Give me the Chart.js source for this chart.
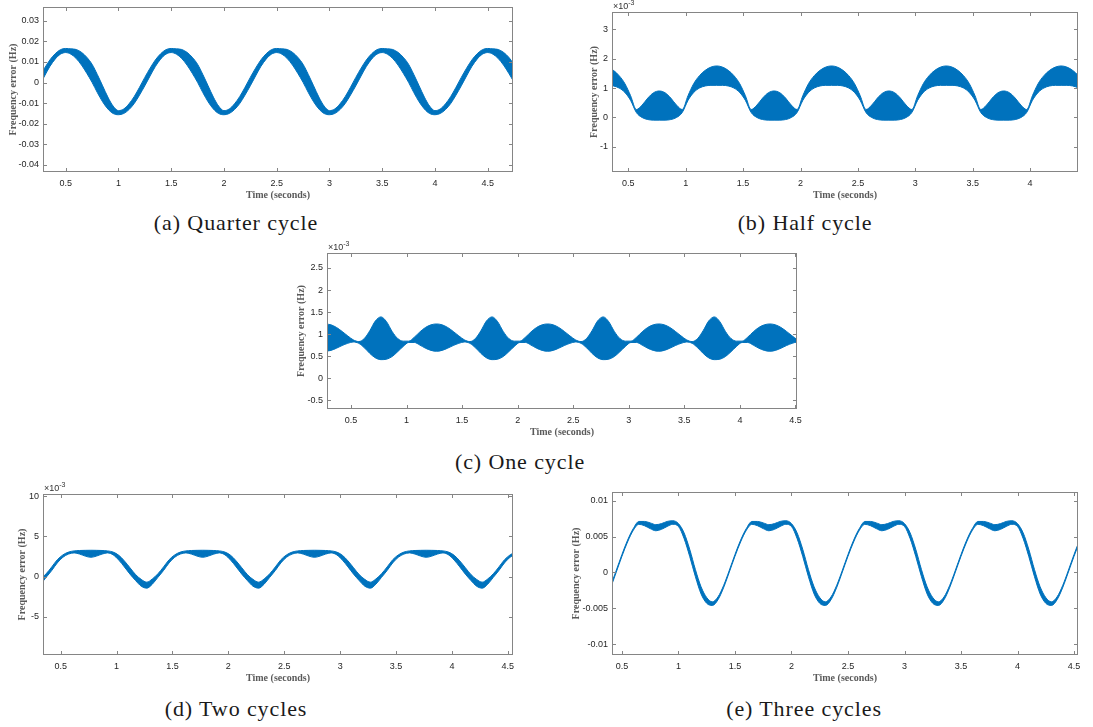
<!DOCTYPE html>
<html>
<head>
<meta charset="utf-8">
<script src="https://cdn.jsdelivr.net/npm/chart.js@4.4.1/dist/chart.umd.min.js"></script>
<style>
  body { margin: 0; background: #fff; }
  #page { position: relative; width: 1093px; height: 727px; overflow: hidden; background: #fff; }
  canvas { position: absolute; }
  .cap {
    position: absolute;
    font-family: "Liberation Serif", serif;
    font-size: 22px;
    letter-spacing: 0.9px;
    color: #1a1a1a;
    white-space: nowrap;
    transform: translate(-50%, -50%);
  }
</style>
</head>
<body>
<div id="page">
  <canvas id="quarter"></canvas>
  <canvas id="half"></canvas>
  <canvas id="one"></canvas>
  <canvas id="two"></canvas>
  <canvas id="three"></canvas>
  <div class="cap" style="left:236px; top:223px">(a) Quarter cycle</div>
  <div class="cap" style="left:805px; top:223px">(b) Half cycle</div>
  <div class="cap" style="left:520px; top:462px">(c) One cycle</div>
  <div class="cap" style="left:236px; top:709px">(d) Two cycles</div>
  <div class="cap" style="left:804px; top:709px">(e) Three cycles</div>
</div>
<script>
// sample times (s)
const timeA = [
  0.25, 0.3, 0.35, 0.4, 0.45, 0.5, 0.55, 0.6, 0.65, 0.7, 0.75, 0.8, 0.85, 0.9, 0.95, 1, 1.05, 1.1, 1.15, 1.2,
  1.25, 1.3, 1.35, 1.4, 1.45, 1.5, 1.55, 1.6, 1.65, 1.7, 1.75, 1.8, 1.85, 1.9, 1.95, 2, 2.05, 2.1, 2.15, 2.2,
  2.25, 2.3, 2.35, 2.4, 2.45, 2.5, 2.55, 2.6, 2.65, 2.7, 2.75, 2.8, 2.85, 2.9, 2.95, 3, 3.05, 3.1, 3.15, 3.2,
  3.25, 3.3, 3.35, 3.4, 3.45, 3.5, 3.55, 3.6, 3.65, 3.7, 3.75, 3.8, 3.85, 3.9, 3.95, 4, 4.05, 4.1, 4.15, 4.2,
  4.25, 4.3, 4.35, 4.4, 4.45, 4.5, 4.55, 4.6, 4.65, 4.7, 4.75
];
const timeB = [
  0.27, 0.32, 0.37, 0.42, 0.47, 0.52, 0.57, 0.62, 0.67, 0.72, 0.77, 0.82, 0.87, 0.92, 0.97, 1.02, 1.07, 1.12, 1.17, 1.22,
  1.27, 1.32, 1.37, 1.42, 1.47, 1.52, 1.57, 1.62, 1.67, 1.72, 1.77, 1.82, 1.87, 1.92, 1.97, 2.02, 2.07, 2.12, 2.17, 2.22,
  2.27, 2.32, 2.37, 2.42, 2.47, 2.52, 2.57, 2.62, 2.67, 2.72, 2.77, 2.82, 2.87, 2.92, 2.97, 3.02, 3.07, 3.12, 3.17, 3.22,
  3.27, 3.32, 3.37, 3.42, 3.47, 3.52, 3.57, 3.62, 3.67, 3.72, 3.77, 3.82, 3.87, 3.92, 3.97, 4.02, 4.07, 4.12, 4.17, 4.22,
  4.27, 4.32, 4.37, 4.42, 4.47, 4.52, 4.57, 4.62, 4.67, 4.72, 4.77
];

// envelopes of the frequency error: upper and lower edge of the oscillating band
// (a) quarter cycle, Hz, on timeA
const quarterUpper = [
  0.0025, 0.007, 0.011, 0.014, 0.016, 0.0166, 0.0164, 0.0161, 0.0147, 0.0123, 0.0089, 0.0039, -0.0016, -0.0071, -0.0115, -0.0137, -0.0129, -0.0104, -0.0068, -0.0023,
  0.0025, 0.007, 0.011, 0.014, 0.016, 0.0166, 0.0164, 0.0161, 0.0147, 0.0123, 0.0089, 0.0039, -0.0016, -0.0071, -0.0115, -0.0137, -0.0129, -0.0104, -0.0068, -0.0023,
  0.0025, 0.007, 0.011, 0.014, 0.016, 0.0166, 0.0164, 0.0161, 0.0147, 0.0123, 0.0089, 0.0039, -0.0016, -0.0071, -0.0115, -0.0137, -0.0129, -0.0104, -0.0068, -0.0023,
  0.0025, 0.007, 0.011, 0.014, 0.016, 0.0166, 0.0164, 0.0161, 0.0147, 0.0123, 0.0089, 0.0039, -0.0016, -0.0071, -0.0115, -0.0137, -0.0129, -0.0104, -0.0068, -0.0023,
  0.0025, 0.007, 0.011, 0.014, 0.016, 0.0166, 0.0164, 0.0161, 0.0147, 0.0123, 0.0089
];
const quarterLower = [
  -0.0016, 0.0032, 0.0078, 0.0114, 0.0138, 0.0146, 0.0138, 0.0117, 0.0085, 0.0045, 0.0001, -0.0049, -0.0094, -0.0129, -0.0151, -0.0157, -0.0151, -0.0132, -0.0102, -0.0061,
  -0.0016, 0.0032, 0.0078, 0.0114, 0.0138, 0.0146, 0.0138, 0.0117, 0.0085, 0.0045, 0.0001, -0.0049, -0.0094, -0.0129, -0.0151, -0.0157, -0.0151, -0.0132, -0.0102, -0.0061,
  -0.0016, 0.0032, 0.0078, 0.0114, 0.0138, 0.0146, 0.0138, 0.0117, 0.0085, 0.0045, 0.0001, -0.0049, -0.0094, -0.0129, -0.0151, -0.0157, -0.0151, -0.0132, -0.0102, -0.0061,
  -0.0016, 0.0032, 0.0078, 0.0114, 0.0138, 0.0146, 0.0138, 0.0117, 0.0085, 0.0045, 0.0001, -0.0049, -0.0094, -0.0129, -0.0151, -0.0157, -0.0151, -0.0132, -0.0102, -0.0061,
  -0.0016, 0.0032, 0.0078, 0.0114, 0.0138, 0.0146, 0.0138, 0.0117, 0.0085, 0.0045, 0.0001
];
// (b) half cycle, x10^-3 Hz, on timeB
const halfUpper = [
  1.75, 1.71, 1.6, 1.42, 1.15, 0.74, 0.27, 0.42, 0.66, 0.84, 0.9, 0.84, 0.66, 0.42, 0.27, 0.74, 1.15, 1.42, 1.6, 1.71,
  1.75, 1.71, 1.6, 1.42, 1.15, 0.74, 0.27, 0.42, 0.66, 0.84, 0.9, 0.84, 0.66, 0.42, 0.27, 0.74, 1.15, 1.42, 1.6, 1.71,
  1.75, 1.71, 1.6, 1.42, 1.15, 0.74, 0.27, 0.42, 0.66, 0.84, 0.9, 0.84, 0.66, 0.42, 0.27, 0.74, 1.15, 1.42, 1.6, 1.71,
  1.75, 1.71, 1.6, 1.42, 1.15, 0.74, 0.27, 0.42, 0.66, 0.84, 0.9, 0.84, 0.66, 0.42, 0.27, 0.74, 1.15, 1.42, 1.6, 1.71,
  1.75, 1.71, 1.6, 1.42, 1.15, 0.74, 0.27, 0.42, 0.66, 0.84, 0.9
];
const halfLower = [
  1.09, 1.09, 1.07, 1, 0.85, 0.58, 0.17, 0, -0.07, -0.09, -0.09, -0.09, -0.07, 0, 0.17, 0.58, 0.85, 1, 1.07, 1.09,
  1.09, 1.09, 1.07, 1, 0.85, 0.58, 0.17, 0, -0.07, -0.09, -0.09, -0.09, -0.07, 0, 0.17, 0.58, 0.85, 1, 1.07, 1.09,
  1.09, 1.09, 1.07, 1, 0.85, 0.58, 0.17, 0, -0.07, -0.09, -0.09, -0.09, -0.07, 0, 0.17, 0.58, 0.85, 1, 1.07, 1.09,
  1.09, 1.09, 1.07, 1, 0.85, 0.58, 0.17, 0, -0.07, -0.09, -0.09, -0.09, -0.07, 0, 0.17, 0.58, 0.85, 1, 1.07, 1.09,
  1.09, 1.09, 1.07, 1, 0.85, 0.58, 0.17, 0, -0.07, -0.09, -0.09
];
// (c) one cycle, x10^-3 Hz, on timeB
const oneUpper = [
  1.23, 1.21, 1.15, 1.06, 0.96, 0.87, 0.83, 0.9, 1.08, 1.3, 1.39, 1.28, 1.06, 0.9, 0.84, 0.84, 0.93, 1.05, 1.15, 1.21,
  1.23, 1.21, 1.15, 1.06, 0.96, 0.87, 0.83, 0.9, 1.08, 1.3, 1.39, 1.28, 1.06, 0.9, 0.84, 0.84, 0.93, 1.05, 1.15, 1.21,
  1.23, 1.21, 1.15, 1.06, 0.96, 0.87, 0.83, 0.9, 1.08, 1.3, 1.39, 1.28, 1.06, 0.9, 0.84, 0.84, 0.93, 1.05, 1.15, 1.21,
  1.23, 1.21, 1.15, 1.06, 0.96, 0.87, 0.83, 0.9, 1.08, 1.3, 1.39, 1.28, 1.06, 0.9, 0.84, 0.84, 0.93, 1.05, 1.15, 1.21,
  1.23, 1.21, 1.15, 1.06, 0.96, 0.87, 0.83, 0.9, 1.08, 1.3, 1.39
];
const oneLower = [
  0.61, 0.63, 0.68, 0.74, 0.79, 0.82, 0.79, 0.69, 0.56, 0.46, 0.42, 0.43, 0.49, 0.6, 0.72, 0.81, 0.81, 0.75, 0.68, 0.63,
  0.61, 0.63, 0.68, 0.74, 0.79, 0.82, 0.79, 0.69, 0.56, 0.46, 0.42, 0.43, 0.49, 0.6, 0.72, 0.81, 0.81, 0.75, 0.68, 0.63,
  0.61, 0.63, 0.68, 0.74, 0.79, 0.82, 0.79, 0.69, 0.56, 0.46, 0.42, 0.43, 0.49, 0.6, 0.72, 0.81, 0.81, 0.75, 0.68, 0.63,
  0.61, 0.63, 0.68, 0.74, 0.79, 0.82, 0.79, 0.69, 0.56, 0.46, 0.42, 0.43, 0.49, 0.6, 0.72, 0.81, 0.81, 0.75, 0.68, 0.63,
  0.61, 0.63, 0.68, 0.74, 0.79, 0.82, 0.79, 0.69, 0.56, 0.46, 0.42
];
// (d) two cycles, x10^-3 Hz, on timeB
const twoUpper = [
  -0.7, -0.3, 0.35, 1.2, 2.1, 2.7, 3.05, 3.2, 3.25, 3.27, 3.28, 3.27, 3.25, 3.2, 3.05, 2.65, 1.95, 1.1, 0.25, -0.35,
  -0.7, -0.3, 0.35, 1.2, 2.1, 2.7, 3.05, 3.2, 3.25, 3.27, 3.28, 3.27, 3.25, 3.2, 3.05, 2.65, 1.95, 1.1, 0.25, -0.35,
  -0.7, -0.3, 0.35, 1.2, 2.1, 2.7, 3.05, 3.2, 3.25, 3.27, 3.28, 3.27, 3.25, 3.2, 3.05, 2.65, 1.95, 1.1, 0.25, -0.35,
  -0.7, -0.3, 0.35, 1.2, 2.1, 2.7, 3.05, 3.2, 3.25, 3.27, 3.28, 3.27, 3.25, 3.2, 3.05, 2.65, 1.95, 1.1, 0.25, -0.35,
  -0.7, -0.3, 0.35, 1.2, 2.1, 2.7, 3.05, 3.2, 3.25, 3.27, 3.28
];
const twoLower = [
  -1.45, -0.95, -0.1, 0.75, 1.7, 2.4, 2.8, 2.95, 2.8, 2.55, 2.4, 2.55, 2.8, 2.95, 2.7, 2.05, 1.2, 0.3, -0.5, -1.2,
  -1.45, -0.95, -0.1, 0.75, 1.7, 2.4, 2.8, 2.95, 2.8, 2.55, 2.4, 2.55, 2.8, 2.95, 2.7, 2.05, 1.2, 0.3, -0.5, -1.2,
  -1.45, -0.95, -0.1, 0.75, 1.7, 2.4, 2.8, 2.95, 2.8, 2.55, 2.4, 2.55, 2.8, 2.95, 2.7, 2.05, 1.2, 0.3, -0.5, -1.2,
  -1.45, -0.95, -0.1, 0.75, 1.7, 2.4, 2.8, 2.95, 2.8, 2.55, 2.4, 2.55, 2.8, 2.95, 2.7, 2.05, 1.2, 0.3, -0.5, -1.2,
  -1.45, -0.95, -0.1, 0.75, 1.7, 2.4, 2.8, 2.95, 2.8, 2.55, 2.4
];
// (e) three cycles, Hz, on timeA
const threeUpper = [
  -0.0035, -0.0041, -0.0034, -0.0018, 0.0003, 0.0025, 0.0045, 0.0061, 0.0071, 0.0071, 0.0069, 0.00665, 0.0068, 0.0071, 0.0072, 0.0068, 0.0055, 0.0032, 0.0004, -0.002,
  -0.0035, -0.0041, -0.0034, -0.0018, 0.0003, 0.0025, 0.0045, 0.0061, 0.0071, 0.0071, 0.0069, 0.00665, 0.0068, 0.0071, 0.0072, 0.0068, 0.0055, 0.0032, 0.0004, -0.002,
  -0.0035, -0.0041, -0.0034, -0.0018, 0.0003, 0.0025, 0.0045, 0.0061, 0.0071, 0.0071, 0.0069, 0.00665, 0.0068, 0.0071, 0.0072, 0.0068, 0.0055, 0.0032, 0.0004, -0.002,
  -0.0035, -0.0041, -0.0034, -0.0018, 0.0003, 0.0025, 0.0045, 0.0061, 0.0071, 0.0071, 0.0069, 0.00665, 0.0068, 0.0071, 0.0072, 0.0068, 0.0055, 0.0032, 0.0004, -0.002,
  -0.0035, -0.0041, -0.0034, -0.0018, 0.0003, 0.0025, 0.0045, 0.0061, 0.0071, 0.0071, 0.0069
];
const threeLower = [
  -0.0043, -0.0046, -0.0038, -0.0021, 0.00005, 0.00225, 0.00425, 0.00585, 0.0067, 0.0065, 0.0061, 0.0058, 0.006, 0.0064, 0.0067, 0.0064, 0.0047, 0.0022, -0.0006, -0.003,
  -0.0043, -0.0046, -0.0038, -0.0021, 0.00005, 0.00225, 0.00425, 0.00585, 0.0067, 0.0065, 0.0061, 0.0058, 0.006, 0.0064, 0.0067, 0.0064, 0.0047, 0.0022, -0.0006, -0.003,
  -0.0043, -0.0046, -0.0038, -0.0021, 0.00005, 0.00225, 0.00425, 0.00585, 0.0067, 0.0065, 0.0061, 0.0058, 0.006, 0.0064, 0.0067, 0.0064, 0.0047, 0.0022, -0.0006, -0.003,
  -0.0043, -0.0046, -0.0038, -0.0021, 0.00005, 0.00225, 0.00425, 0.00585, 0.0067, 0.0065, 0.0061, 0.0058, 0.006, 0.0064, 0.0067, 0.0064, 0.0047, 0.0022, -0.0006, -0.003,
  -0.0043, -0.0046, -0.0038, -0.0021, 0.00005, 0.00225, 0.00425, 0.00585, 0.0067, 0.0065, 0.0061
];

// tick values
const timeTicks = [0.5, 1, 1.5, 2, 2.5, 3, 3.5, 4, 4.5];
const quarterTicks = [-0.04, -0.03, -0.02, -0.01, 0, 0.01, 0.02, 0.03];
const halfTicks = [-1, 0, 1, 2, 3];
const oneTicks = [-0.5, 0, 0.5, 1, 1.5, 2, 2.5];
const twoTicks = [-5, 0, 5, 10];
const threeTicks = [-0.01, -0.005, 0, 0.005, 0.01];

const BLUE = "rgb(0, 114, 189)";
const AXW = 50, PADT = 14, PADR = 16, AXH = 34;
const SANS = "'Liberation Sans', Arial, sans-serif";
const SERIF = "'Liberation Serif', 'Times New Roman', serif";

const fmt = v => String(Math.round(v * 100000) / 100000);

// MATLAB style box: frame, inward ticks on all four sides, exponent note
const axisBox = {
  id: "axisBox",
  afterDraw(chart, args, opts) {
    const ctx = chart.ctx;
    const { left, top, right, bottom } = chart.chartArea;
    const xs = chart.scales.x, ys = chart.scales.y;
    ctx.save();
    ctx.strokeStyle = "#858585";
    ctx.lineWidth = 1;
    ctx.strokeRect(left + 0.5, top + 0.5, right - left - 1, bottom - top - 1);
    ctx.beginPath();
    xs.ticks.forEach(t => {
      const px = Math.round(xs.getPixelForValue(t.value)) + 0.5;
      ctx.moveTo(px, bottom); ctx.lineTo(px, bottom - 4);
      ctx.moveTo(px, top); ctx.lineTo(px, top + 4);
    });
    ys.ticks.forEach(t => {
      const py = Math.round(ys.getPixelForValue(t.value)) + 0.5;
      ctx.moveTo(left, py); ctx.lineTo(left + 4, py);
      ctx.moveTo(right, py); ctx.lineTo(right - 4, py);
    });
    ctx.stroke();
    if (opts.exponent) {
      ctx.fillStyle = "#333";
      ctx.font = "9px " + SANS;
      ctx.textBaseline = "alphabetic";
      ctx.fillText("\u00d710", left + 1, top - 3);
      const w = ctx.measureText("\u00d710").width;
      ctx.font = "7px " + SANS;
      ctx.fillText(opts.exponent, left + 1 + w, top - 7);
    }
    ctx.restore();
  }
};

function drawPanel(id, p) {
  const canvas = document.getElementById(id);
  canvas.width = p.R - p.L + AXW + PADR;
  canvas.height = p.B - p.T + PADT + AXH;
  canvas.style.left = (p.L - AXW) + "px";
  canvas.style.top = (p.T - PADT) + "px";

  const points = ys => p.time.map((t, i) => ({ x: t, y: ys[i] }));
  const band = {
    borderColor: BLUE,
    borderWidth: 1,
    pointRadius: 0,
    cubicInterpolationMode: "monotone"
  };

  new Chart(canvas, {
    type: "line",
    data: {
      datasets: [
        Object.assign({ data: points(p.lower), fill: false }, band),
        Object.assign({ data: points(p.upper), fill: "-1", backgroundColor: BLUE }, band)
      ]
    },
    options: {
      responsive: false,
      animation: false,
      devicePixelRatio: 1,
      layout: { padding: { left: 0, top: PADT, right: PADR, bottom: 0 } },
      plugins: {
        legend: { display: false },
        tooltip: { enabled: false },
        axisBox: { exponent: p.exponent }
      },
      scales: {
        x: {
          type: "linear",
          min: p.xMin,
          max: p.xMax,
          afterFit: s => { s.height = AXH; },
          afterBuildTicks: s => {
            s.ticks = timeTicks.filter(v => v >= p.xMin && v <= p.xMax).map(v => ({ value: v }));
          },
          grid: { display: false, drawTicks: false },
          border: { display: false },
          ticks: {
            autoSkip: false, maxRotation: 0, padding: 6, color: "#262626",
            font: { family: SANS, size: 9 }, callback: v => fmt(v)
          },
          title: {
            display: true, text: "Time (seconds)", color: "#5a5a5a",
            font: { family: SERIF, size: 10, weight: "bold" },
            padding: { top: 0, bottom: 5 }
          }
        },
        y: {
          type: "linear",
          min: p.yMin,
          max: p.yMax,
          afterFit: s => { s.width = AXW; },
          afterBuildTicks: s => { s.ticks = p.yTicks.map(v => ({ value: v })); },
          grid: { display: false, drawTicks: false },
          border: { display: false },
          ticks: {
            autoSkip: false, padding: 4, color: "#262626",
            font: { family: SANS, size: 9 }, callback: v => fmt(v)
          },
          title: {
            display: true, text: "Frequency error (Hz)", color: "#5a5a5a",
            font: { family: SERIF, size: 10, weight: "bold" },
            padding: { top: p.titlePad, bottom: 0 }
          }
        }
      }
    },
    plugins: [axisBox]
  });
}

drawPanel("quarter", {
  L: 43, T: 7, R: 513, B: 172,
  xMin: 0.285, xMax: 4.74, yMin: -0.0436, yMax: 0.0368,
  time: timeA, upper: quarterUpper, lower: quarterLower,
  yTicks: quarterTicks, titlePad: 14
});
drawPanel("half", {
  L: 612, T: 12, R: 1078, B: 172,
  xMin: 0.358, xMax: 4.417, yMin: -1.85, yMax: 3.58,
  time: timeB, upper: halfUpper, lower: halfLower,
  yTicks: halfTicks, titlePad: 26, exponent: "-3"
});
drawPanel("one", {
  L: 327, T: 253, R: 797, B: 409,
  xMin: 0.284, xMax: 4.514, yMin: -0.7, yMax: 2.84,
  time: timeB, upper: oneUpper, lower: oneLower,
  yTicks: oneTicks, titlePad: 18, exponent: "-3"
});
drawPanel("two", {
  L: 43, T: 494, R: 513, B: 655,
  xMin: 0.342, xMax: 4.546, yMin: -9.79, yMax: 10.3,
  time: timeB, upper: twoUpper, lower: twoLower,
  yTicks: twoTicks, titlePad: 23, exponent: "-3"
});
drawPanel("three", {
  L: 612, T: 492, R: 1078, B: 655,
  xMin: 0.412, xMax: 4.535, yMin: -0.0115, yMax: 0.0112,
  time: timeA, upper: threeUpper, lower: threeLower,
  yTicks: threeTicks, titlePad: 8
});
</script>
</body>
</html>
